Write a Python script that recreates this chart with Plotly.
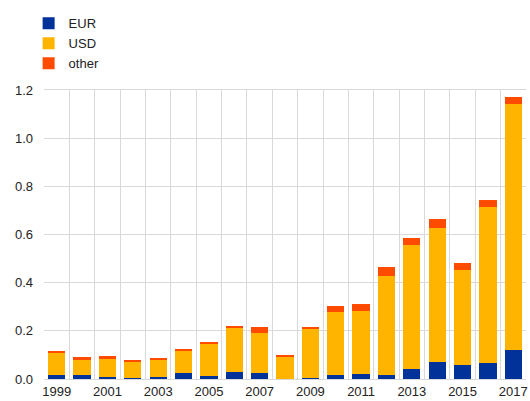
import plotly.graph_objects as go

years = list(range(1999, 2018))
# stacked readings: EUR, USD, other
eur = [0.017, 0.017, 0.010, 0.006, 0.007, 0.025, 0.013, 0.030, 0.024, 0.002,
       0.006, 0.018, 0.021, 0.018, 0.043, 0.072, 0.059, 0.066, 0.122]
usd = [0.092, 0.066, 0.077, 0.067, 0.075, 0.095, 0.135, 0.182, 0.169, 0.091,
       0.201, 0.259, 0.261, 0.409, 0.512, 0.553, 0.395, 0.649, 1.019]
other = [0.007, 0.007, 0.008, 0.003, 0.002, 0.006, 0.003, 0.008, 0.021, 0.008,
         0.010, 0.025, 0.029, 0.036, 0.031, 0.040, 0.026, 0.030, 0.029]

series = [("EUR", eur, "#003299"), ("USD", usd, "#FFB400"), ("other", other, "#FF4B00")]
ytick_vals = [0.0, 0.2, 0.4, 0.6, 0.8, 1.0, 1.2]
ytick_text = ["0.0", "0.2", "0.4", "0.6", "0.8", "1.0", "1.2"]
xtick_years = years[::2]

fig = go.Figure()
for name, vals, col in series:
    fig.add_trace(go.Bar(x=years, y=vals, name=name, marker=dict(color=col, line=dict(width=0))))

grid = "#d9d9d9"
fig.update_layout(
    barmode="stack",
    bargap=0.32,
    width=530, height=401,
    margin=dict(l=44, r=4, t=90, b=22, autoexpand=False),
    paper_bgcolor="white", plot_bgcolor="white",
    font=dict(family="Arial, Liberation Sans, sans-serif", size=13, color="#222"),
    legend=dict(orientation="v", xref="container", yref="container",
                x=0.054, y=0.979, xanchor="left", yanchor="top",
                traceorder="normal", font=dict(size=13), itemwidth=30,
                bgcolor="rgba(0,0,0,0)"),
    showlegend=True,
)
fig.update_xaxes(
    range=[1998.5, 2017.5],
    tickmode="array", tickvals=xtick_years, ticktext=[str(y) for y in xtick_years],
    showgrid=False, ticks="", ticklen=0, automargin=False,
    minor=dict(tickmode="linear", tick0=1998.5, dtick=1, showgrid=True, gridcolor=grid, gridwidth=1, ticks=""),
    showline=True, linecolor=grid, linewidth=1, mirror=True,
    tickfont=dict(size=13),
)
fig.update_yaxes(
    range=[0, 1.2], tickmode="array", tickvals=ytick_vals, ticktext=ytick_text,
    showgrid=True, gridcolor=grid, gridwidth=1, zeroline=False, automargin=False,
    showline=False, ticks="", ticklabelstandoff=10,
    tickfont=dict(size=13),
)
fig.write_html("out.html", config={"displayModeBar": False},
               post_script="document.body.style.margin='0';")
